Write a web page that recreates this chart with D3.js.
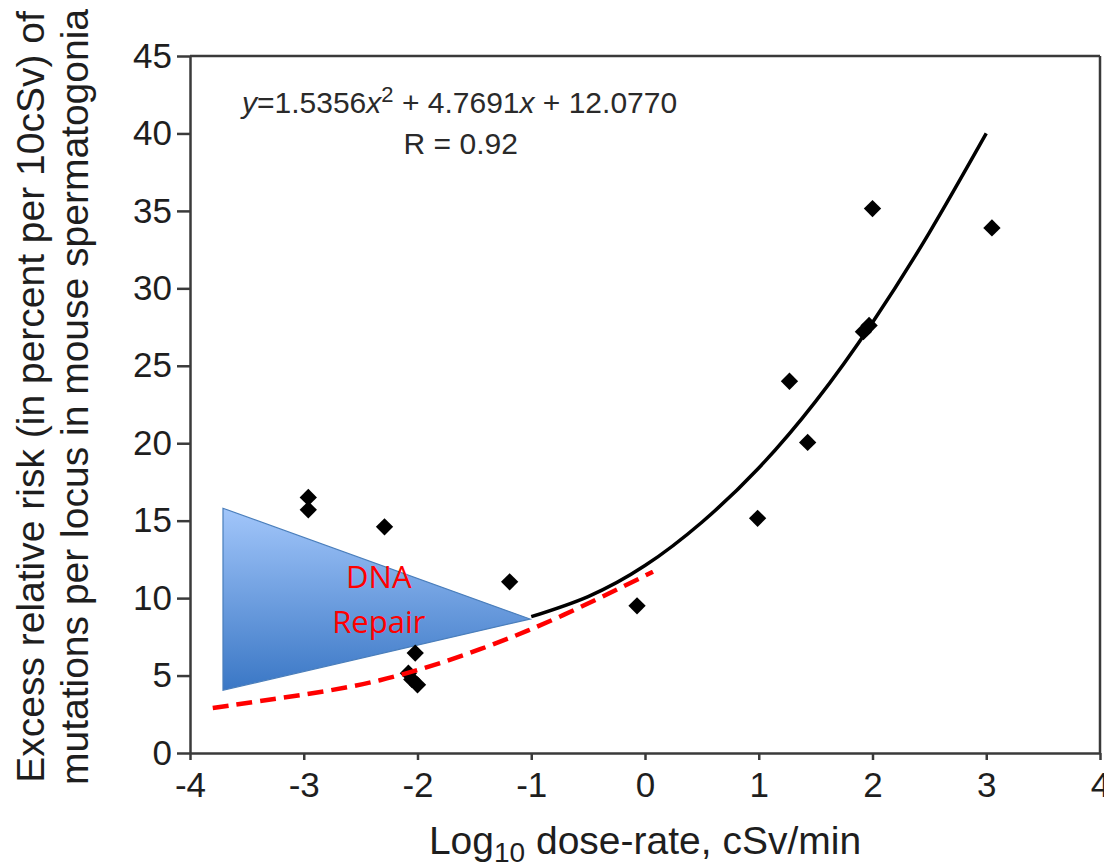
<!DOCTYPE html>
<html>
<head>
  <meta charset="UTF-8">
  <title>Excess relative risk vs dose-rate</title>
  <script src="https://d3js.org/d3.v7.min.js"></script>
  <style>
    body {
      margin: 0;
      padding: 0;
      background: #fff;
    }
    svg {
      display: block;
      font-family: "Liberation Sans", Arial, sans-serif;
    }
    .axis path, .axis line {
      stroke: #3a3a3a;
      stroke-width: 2.5;
    }
    .axis text {
      font-size: 35px;
      fill: #1e1e1e;
    }
    .frame {
      stroke: #3a3a3a;
      stroke-width: 2.5;
    }
    .fit {
      fill: none;
      stroke: #000;
      stroke-width: 3.5;
    }
    .repair-line {
      fill: none;
      stroke: #ff0000;
      stroke-width: 4.5;
      stroke-dasharray: 16 8;
    }
    .title {
      font-size: 39px;
      fill: #1e1e1e;
    }
    .equation {
      font-size: 30px;
      fill: #2a2a2a;
    }
    .repair-label {
      font-family: "Open Sans", "Noto Sans", sans-serif;
      font-size: 31px;
      fill: #ff0000;
    }
  </style>
</head>
<body>
  <div id="chart"></div>

  <script>
    // measured points: log10 dose-rate vs excess relative risk
    const doseRate = [-2.96, -2.96, -2.29, -2.02, -2.08, -2.05, -2.0, -1.19, -0.07, 0.99, 1.27, 1.43, 1.92, 1.97, 2.0, 3.05];
    const risk     = [16.5, 15.7, 14.6, 6.45, 5.15, 4.75, 4.4, 11.05, 9.5, 15.15, 24.0, 20.05, 27.2, 27.6, 35.15, 33.9];

    // fitted curve, every half unit
    const fitX = [-1, -0.5, 0, 0.5, 1, 1.5, 2, 2.5, 3];
    const fitY = [8.8, 10.1, 12.1, 14.9, 18.4, 22.7, 27.8, 33.6, 40.0];

    // red dashed curve (low dose-rate trend)
    const repairX = [-3.8, -3.2, -2.33, -1.45, -0.72, 0.07];
    const repairY = [2.9, 3.55, 4.7, 6.7, 8.9, 11.7];

    // blue "DNA Repair" wedge corners
    const wedgeX = [-3.71, -3.71, -1.01];
    const wedgeY = [15.8, 4.05, 8.65];

    const xTicks = [-4, -3, -2, -1, 0, 1, 2, 3, 4];
    const yTicks = [0, 5, 10, 15, 20, 25, 30, 35, 40, 45];

    const width = 1104;
    const height = 865;
    const plotLeft = 190, plotRight = 1100, plotTop = 56, plotBottom = 753;

    const svg = d3.select("#chart").append("svg")
      .attr("width", width)
      .attr("height", height);

    const x = d3.scaleLinear().domain([-4, 4]).range([plotLeft, plotRight]);
    const y = d3.scaleLinear().domain([0, 45]).range([plotBottom, plotTop]);

    // gradient for the wedge
    const grad = svg.append("defs").append("linearGradient")
      .attr("id", "wedgeFill")
      .attr("x1", 0).attr("y1", 0).attr("x2", 0).attr("y2", 1);
    grad.append("stop").attr("offset", "0%").attr("stop-color", "#a2c6fa");
    grad.append("stop").attr("offset", "100%").attr("stop-color", "#3a77c5");

    // frame: top and right edges
    svg.append("line").attr("class", "frame")
      .attr("x1", x(-4)).attr("x2", x(4)).attr("y1", y(45)).attr("y2", y(45));
    svg.append("line").attr("class", "frame")
      .attr("x1", x(4)).attr("x2", x(4)).attr("y1", y(45)).attr("y2", y(0));

    // axes
    svg.append("g")
      .attr("class", "axis")
      .attr("transform", `translate(${plotLeft},0)`)
      .call(d3.axisLeft(y).tickValues(yTicks).tickSize(13).tickSizeOuter(0).tickPadding(5)
        .tickFormat(d => String(d)));

    svg.append("g")
      .attr("class", "axis")
      .attr("transform", `translate(0,${plotBottom})`)
      .call(d3.axisBottom(x).tickValues(xTicks).tickSize(7).tickSizeOuter(0).tickPadding(12)
        .tickFormat(d => String(d)));

    // wedge
    const wedge = wedgeX.map((v, i) => [x(v), y(wedgeY[i])]);
    svg.append("polygon")
      .attr("points", wedge.map(p => p.join(",")).join(" "))
      .attr("fill", "url(#wedgeFill)")
      .attr("stroke", "#4a7ebb")
      .attr("stroke-width", 1.2);

    // fitted curve
    const line = d3.line()
      .curve(d3.curveNatural)
      .x(d => x(d[0]))
      .y(d => y(d[1]));

    svg.append("path")
      .datum(fitX.map((v, i) => [v, fitY[i]]))
      .attr("class", "fit")
      .attr("d", line);

    // points
    const pts = doseRate.map((v, i) => ({ x: v, y: risk[i] }));
    svg.selectAll(".pt")
      .data(pts)
      .enter()
      .append("path")
      .attr("class", "pt")
      .attr("d", d3.symbol(d3.symbolSquare, 150))
      .attr("fill", "#000")
      .attr("transform", d => `translate(${x(d.x)},${y(d.y)}) rotate(45)`);

    // red dashed curve
    svg.append("path")
      .datum(repairX.map((v, i) => [v, repairY[i]]))
      .attr("class", "repair-line")
      .attr("d", line);

    // DNA Repair label
    const lab = svg.append("text")
      .attr("class", "repair-label")
      .attr("text-anchor", "middle");
    lab.append("tspan").attr("x", x(-2.34)).attr("y", y(10.65)).text("DNA");
    lab.append("tspan").attr("x", x(-2.34)).attr("y", y(7.75)).text("Repair");

    // equation
    const eq = svg.append("text")
      .attr("class", "equation")
      .attr("text-anchor", "middle")
      .attr("x", x(-1.63))
      .attr("y", y(41.3));
    eq.append("tspan").attr("font-style", "italic").text("y");
    eq.append("tspan").text("=1.5356");
    eq.append("tspan").attr("font-style", "italic").text("x");
    eq.append("tspan").attr("font-size", "22px").attr("dy", -11).text("2");
    eq.append("tspan").attr("dy", 11).text(" + 4.7691");
    eq.append("tspan").attr("font-style", "italic").text("x");
    eq.append("tspan").text(" + 12.0770");

    svg.append("text")
      .attr("class", "equation")
      .attr("text-anchor", "middle")
      .attr("x", x(-1.62))
      .attr("y", y(38.7))
      .text("R = 0.92");

    // axis titles
    const xt = svg.append("text")
      .attr("class", "title")
      .attr("text-anchor", "middle")
      .attr("x", 645)
      .attr("y", 854);
    xt.append("tspan").text("Log");
    xt.append("tspan").attr("font-size", "28px").attr("dy", 8).text("10");
    xt.append("tspan").attr("dy", -8).text(" dose-rate, cSv/min");

    const yt = svg.append("text")
      .attr("class", "title")
      .attr("text-anchor", "middle")
      .attr("transform", "translate(0,397) rotate(-90)");
    yt.append("tspan").attr("x", 0).attr("y", 44).text("Excess relative risk (in percent per 10cSv) of");
    yt.append("tspan").attr("x", 0).attr("y", 88).text("mutations per locus in mouse spermatogonia");
  </script>
</body>
</html>
